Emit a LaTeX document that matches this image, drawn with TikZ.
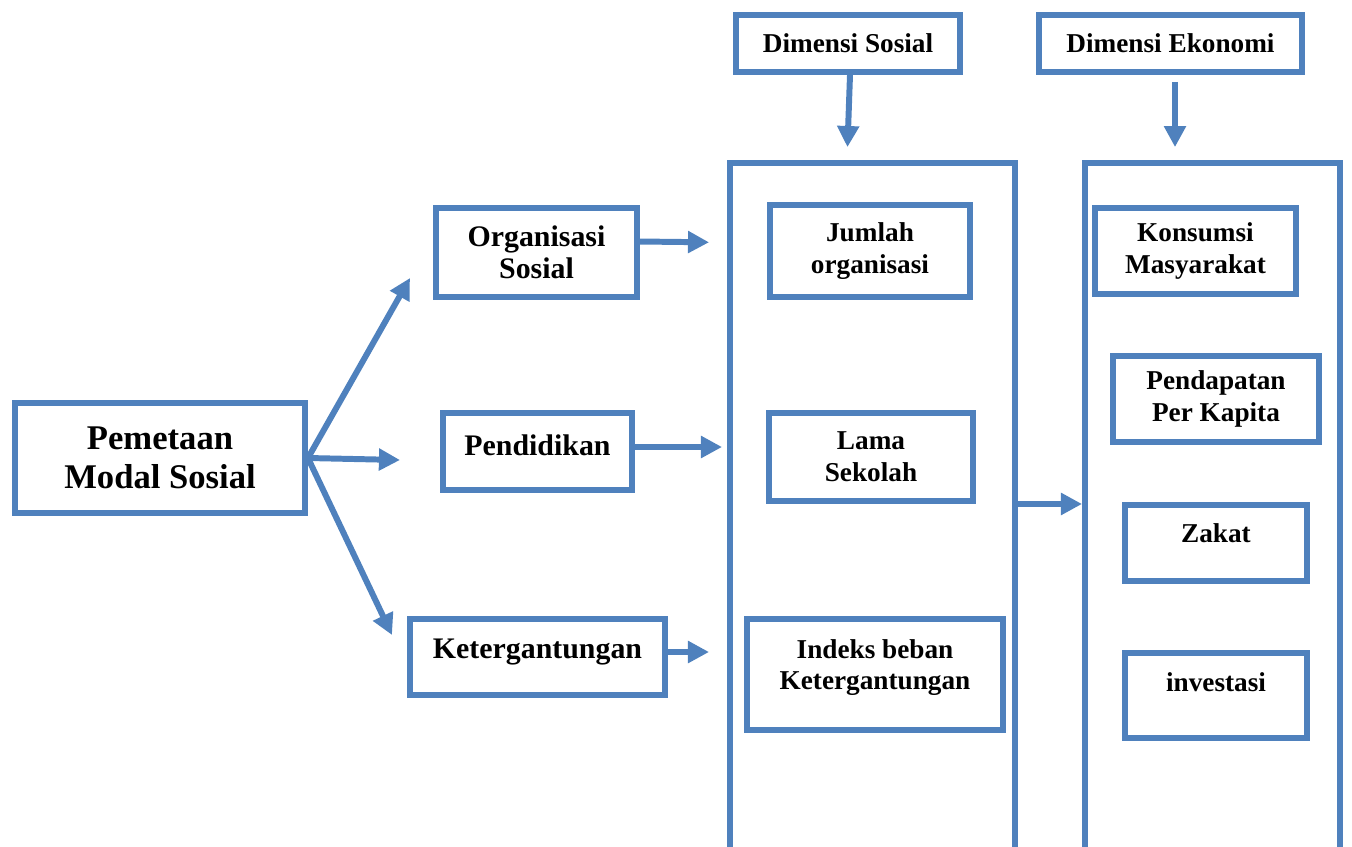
\documentclass[tikz,border=0pt]{standalone}
\usepackage{fontspec}
\setmainfont{Liberation Serif}
\usepackage{tikz}
\usetikzlibrary{arrows.meta, positioning, calc}
\definecolor{biru}{HTML}{4F81BD}

\begin{document}
\begin{tikzpicture}[x=0.02cm, y=-0.02cm, >={Triangle[length=12pt, width=12pt]},
    kotak/.style={draw=biru, line width=3.4pt, align=center, font=\bfseries\fontsize{15.5}{18}\selectfont},
    besar/.style={font=\bfseries\fontsize{17}{18}\selectfont},
    panah/.style={->, draw=biru, line width=3.4pt}]
  \useasboundingbox (0,0) rectangle (1352,846);
  % Left side
  \node[kotak, minimum width=5.8cm, minimum height=2.2cm, font=\bfseries\fontsize{19.7}{22}\selectfont]
    (pem) at (160,458) {Pemetaan\\Modal Sosial};
  \node[kotak, besar, minimum width=4.02cm, minimum height=1.78cm] (org) at (536.5,252.5) {Organisasi\\Sosial};
  \node[kotak, besar, minimum width=3.78cm, minimum height=1.54cm, text depth=0.26cm] (pend) at (537.5,451.5) {Pendidikan};
  \node[kotak, besar, minimum width=5.1cm, minimum height=1.52cm, text depth=0.32cm] (ket) at (537.5,657) {Ketergantungan};
  % Dimension headers
  \node[kotak, minimum width=4.48cm, minimum height=1.14cm] (dsos) at (848,43.5) {Dimensi Sosial};
  \node[kotak, minimum width=5.26cm, minimum height=1.14cm] (deko) at (1170.5,43.5) {Dimensi Ekonomi};
  % Big columns (open at the bottom)
  \begin{scope}
    \clip (0,0) rectangle (1352,846);
    \node[kotak, minimum width=5.7cm, minimum height=14.74cm] (bigS) at (872.5,531.5) {};
    \node[kotak, minimum width=5.1cm, minimum height=14.74cm] (bigE) at (1212.5,531.5) {};
  \end{scope}
  % Social indicators
  \node[kotak, minimum width=4.0cm, minimum height=1.84cm] (jum) at (870,251) {Jumlah\\organisasi};
  \node[kotak, minimum width=4.08cm, minimum height=1.76cm] (lama) at (871,457) {Lama\\Sekolah};
  \node[kotak, minimum width=5.12cm, minimum height=2.22cm, text depth=0.4cm] (ind) at (875,674.5) {Indeks beban\\Ketergantungan};
  % Economic indicators
  \node[kotak, minimum width=4.02cm, minimum height=1.72cm] (kons) at (1195.5,251) {Konsumsi\\Masyarakat};
  \node[kotak, minimum width=4.12cm, minimum height=1.72cm] (penda) at (1216,399) {Pendapatan\\Per Kapita};
  \node[kotak, minimum width=3.64cm, minimum height=1.52cm, text depth=0.4cm] (zak) at (1216,543) {Zakat};
  \node[kotak, minimum width=3.64cm, minimum height=1.7cm, text depth=0.52cm] (inv) at (1216,695.5) {investasi};
  % Free arrow ends
  \coordinate (tA) at (410,278);
  \coordinate (tB) at (400,460);
  \coordinate (tC) at (392,635);
  % Arrows
  \draw[panah] (pem.east) -- (tA);
  \draw[panah] (pem.east) -- (tB);
  \draw[panah] (pem.east) -- (tC);
  \draw[panah, shorten >=0.36cm] ([yshift=0.22cm]org.east) -- ([yshift=0.2cm]org.east -| bigS.west);
  \draw[panah, shorten >=0.1cm] ([yshift=0.09cm]pend.east) -- ([yshift=0.09cm]pend.east -| bigS.west);
  \draw[panah, shorten >=0.36cm] ([yshift=0.1cm]ket.east) -- ([yshift=0.1cm]ket.east -| bigS.west);
  \draw[panah, shorten >=0.26cm] ([xshift=0.04cm]dsos.south) -- ([xshift=-0.02cm]dsos.south |- bigS.north);
  \draw[panah, shorten <=0.14cm, shorten >=0.26cm] ([xshift=0.09cm]deko.south) -- ([xshift=0.09cm]deko.south |- bigE.north);
  \draw[panah] (lama.south -| bigS.east) -- (lama.south -| bigE.west);
\end{tikzpicture}
\end{document}
